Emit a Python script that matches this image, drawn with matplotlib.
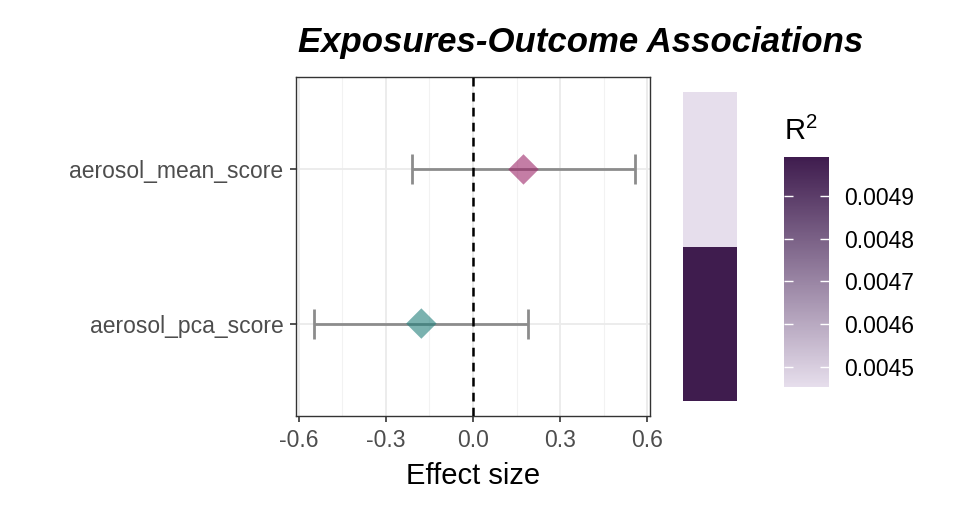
import numpy as np
import matplotlib
matplotlib.use("Agg")
import matplotlib.pyplot as plt
from matplotlib.colors import LinearSegmentedColormap, Normalize
from matplotlib.cm import ScalarMappable

plt.rcParams['font.family'] = ['Liberation Sans', 'DejaVu Sans']
plt.rcParams['mathtext.fontset'] = 'custom'
plt.rcParams['mathtext.rm'] = 'Liberation Sans'
plt.rcParams['mathtext.it'] = 'Liberation Sans:italic'

# data
exposures = ["aerosol_pca_score", "aerosol_mean_score"]
effect = [-0.178, 0.174]
ci_low = [-0.547, -0.209]
ci_high = [0.191, 0.557]
r2 = [0.004991, 0.004453]
point_colors = ["#217F7B", "#9D2669"]
cb_ticks = [0.0045, 0.0046, 0.0047, 0.0048, 0.0049]
x_ticks = [-0.6, -0.3, 0.0, 0.3, 0.6]

W, H = 960, 518
fig = plt.figure(figsize=(9.6, 5.18), dpi=100)

def px_axes(x0, y0, x1, y1):
    return fig.add_axes([x0 / W, (H - y1) / H, (x1 - x0) / W, (y1 - y0) / H])

# main forest panel
ax = px_axes(296, 77, 650, 416)
ypos = np.arange(1, len(exposures) + 1)
ax.set_xlim(-0.61, 0.61)
ax.set_ylim(0.4, len(exposures) + 0.6)
for v in [-0.45, -0.15, 0.15, 0.45]:
    ax.axvline(v, color="#F2F2F2", lw=0.8, zorder=0)
for v in x_ticks:
    ax.axvline(v, color="#EBEBEB", lw=1.3, zorder=0)
for y in ypos:
    ax.axhline(y, color="#EBEBEB", lw=1.3, zorder=0)
ax.errorbar(effect, ypos, xerr=[np.array(effect) - np.array(ci_low), np.array(ci_high) - np.array(effect)],
            fmt="none", ecolor="#8C8C8C", elinewidth=2, capsize=11, capthick=2, zorder=2)
ax.axvline(0, color="black", lw=1.8, ls=(0, (3.5, 2.5)), zorder=3)
ax.scatter(effect, ypos, marker="D", s=240, c=point_colors, alpha=0.6, edgecolors="none", zorder=4)
ax.set_xticks(x_ticks)
ax.set_xticklabels(["-0.6", "-0.3", "0.0", "0.3", "0.6"])
ax.set_yticks(ypos)
ax.set_yticklabels(exposures)
ax.tick_params(labelsize=16.5, labelcolor="#4D4D4D", color="#333333", length=4, width=1.2)
ax.tick_params(axis="x", pad=5.5)
ax.tick_params(axis="y", pad=5)
for s in ax.spines.values():
    s.set_color("#333333")
    s.set_linewidth(1)
ax.set_xlabel("Effect size", fontsize=21, labelpad=7)
fig.text(581 / W, 1 - 42 / H, "Exposures-Outcome Associations", fontsize=25,
         fontweight="bold", fontstyle="italic", ha="center", va="center")

# R2 tile column
cmap = LinearSegmentedColormap.from_list("r2", ["#E6DEEC", "#3F1C4E"])
norm = Normalize(vmin=min(r2), vmax=max(r2))
tax = px_axes(683, 77, 737, 416)
tax.set_xlim(0, 1)
tax.set_ylim(0.4, len(exposures) + 0.6)
tax.barh(ypos, [1] * len(ypos), height=1.0, left=0, color=cmap(norm(r2)))
tax.axis("off")

# colour bar
cax = px_axes(784, 157, 829, 387)
cb = fig.colorbar(ScalarMappable(norm=norm, cmap=cmap), cax=cax)
cb.outline.set_visible(False)
cb.set_ticks(cb_ticks)
cb.set_ticklabels([f"{t:.4f}" for t in cb_ticks])
cax.tick_params(length=0, labelsize=16.5, pad=11)
cax.hlines(cb_ticks, 0, 0.2, color="white", lw=1)
cax.hlines(cb_ticks, 0.8, 1.0, color="white", lw=1)
fig.text(784 / W, 1 - 131 / H, "R$^2$", fontsize=21, ha="left", va="center")

fig.savefig("out.png", dpi=100)
